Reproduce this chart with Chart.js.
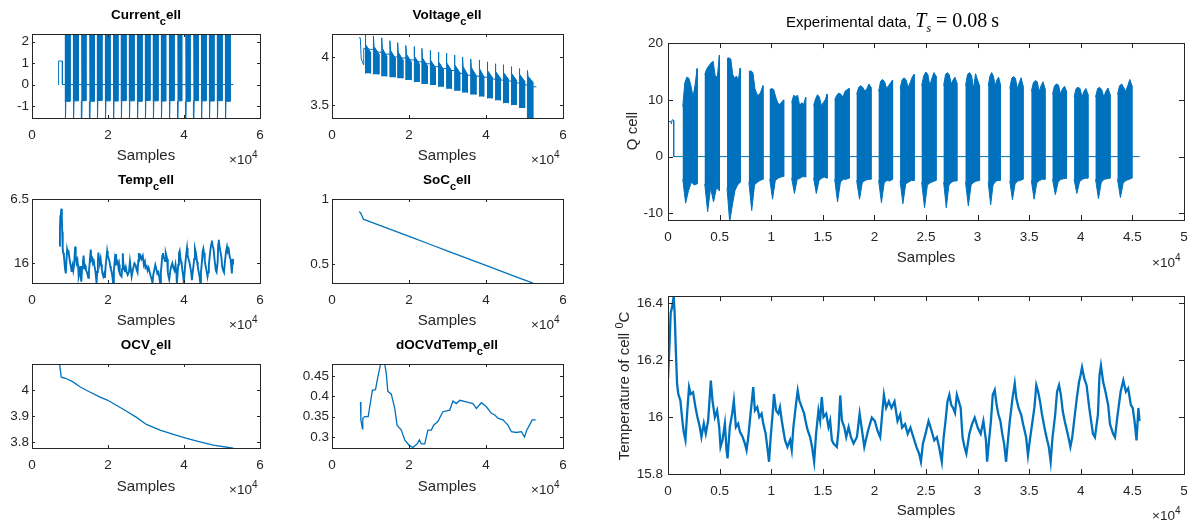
<!DOCTYPE html>
<html>
<head>
<meta charset="utf-8">
<script src="https://cdn.jsdelivr.net/npm/chart.js@4.4.1/dist/chart.umd.min.js"></script>
<style>
  body { margin: 0; width: 1192px; height: 522px; background: #fff; position: relative; overflow: hidden; font-family: 'Liberation Sans', Arial, sans-serif; }
  canvas { position: absolute; }
  .t { position: absolute; white-space: nowrap; color: #262626; line-height: 1; }
  .ttl { font-weight: bold; font-size: 13.5px; color: #000; transform: translateX(-50%); }
  .ttl span { position: relative; top: 6px; font-size: 11px; }
  .xl { font-size: 15px; transform: translateX(-50%); }
  .exp { font-size: 13.5px; }
  .exp span { position: relative; top: -6px; font-size: 10px; }
  .yl { font-size: 15px; transform: translate(-50%, -50%) rotate(-90deg); }
  .yl span { position: relative; top: -6px; font-size: 11px; }
  .big { font-size: 15px; color: #000; line-height: 22px; }
  .big .m { font-family: 'Liberation Serif', 'DejaVu Serif', serif; font-size: 20px; }
  .big .m i sub { font-size: 12px; }
  .big .m .eq { margin: 0 5px; }
  .big .m .u { margin-left: 4px; }
</style>
</head>
<body>
<script>
// sample index where the left-hand panels start relative to the right-hand ones
const leftOffset = 7200

// burst timing (samples, right-hand frame)
const burstStart = [1430, 3560, 5720, 7840, 9860, 11980, 14110, 16150, 18280, 20410, 22490, 24580, 26710, 28830, 31030, 33120, 35210, 37260, 39350, 41430, 43560]
const burstEnd = [2820, 4980, 7000, 9200, 11210, 13340, 15420, 17550, 19670, 21760, 23850, 25970, 27990, 30190, 32200, 34400, 36530, 38620, 40690, 42830, 44950]

// Q cell
const qInitX = [0, 250, 330, 400, 550, 550, 45700]
const qInitY = [6.2, 6.2, 5.8, 6.5, 6.4, 0, 0]
const qTop = [
  [8.8, 13.0, 14.0, 13.8, 12.5, 10.5, 12.6, 15.5],
  [14.5, 15.5, 16.0, 16.5, 16.8, 14.2, 14.0, 17.9],
  [17.3, 17.4, 17.2, 14.5, 13.8, 14.2, 13.5, 15.6],
  [15.0, 15.1, 14.8, 12.0, 11.0, 10.8, 11.5, 12.5],
  [11.8, 12.0, 11.8, 10.5, 9.5, 9.2, 9.6, 10.0],
  [9.5, 10.8, 10.6, 10.8, 9.0, 9.5, 9.2, 10.5],
  [9.0, 10.2, 10.9, 10.5, 9.0, 9.5, 10.0, 11.0],
  [10.0, 10.8, 11.2, 11.0, 10.5, 11.5, 11.8, 12.0],
  [11.0, 12.2, 12.5, 12.2, 11.5, 12.0, 12.8, 12.2],
  [11.5, 13.3, 13.6, 13.2, 12.0, 12.5, 13.0, 13.5],
  [12.0, 13.5, 13.9, 13.5, 12.2, 13.0, 14.0, 14.5],
  [12.5, 14.2, 14.9, 14.5, 12.5, 13.8, 14.8, 14.2],
  [12.5, 14.5, 14.8, 14.4, 12.8, 13.5, 14.0, 13.0],
  [12.5, 14.5, 14.8, 14.3, 12.0, 14.6, 13.5, 12.5],
  [12.5, 14.2, 14.8, 14.2, 12.5, 13.5, 14.0, 12.8],
  [12.0, 13.8, 14.1, 13.8, 12.0, 13.0, 13.9, 12.5],
  [11.5, 13.0, 13.4, 13.2, 11.5, 12.5, 13.2, 12.0],
  [11.0, 12.5, 12.8, 12.6, 11.0, 12.0, 12.4, 11.5],
  [10.5, 12.0, 12.2, 12.0, 10.5, 11.5, 12.0, 11.0],
  [10.5, 12.0, 12.2, 11.8, 10.5, 11.5, 12.1, 11.0],
  [11.0, 12.5, 12.8, 12.2, 11.5, 12.5, 13.6, 12.5]
]
const qBot = [
  [-4.0, -8.2, -6.0, -4.5, -5.0, -4.8],
  [-4.8, -9.7, -5.5, -8.0, -5.5, -6.0],
  [-5.5, -11.5, -8.6, -6.0, -5.0, -4.5],
  [-4.5, -9.5, -5.0, -4.5, -4.2, -4.0],
  [-4.0, -7.5, -4.2, -3.8, -3.6, -3.5],
  [-3.8, -6.5, -4.0, -3.8, -3.5, -3.6],
  [-3.8, -6.5, -4.2, -3.8, -3.6, -3.8],
  [-4.0, -8.0, -4.5, -4.0, -4.0, -3.8],
  [-4.2, -7.5, -4.5, -4.2, -4.0, -4.0],
  [-4.2, -8.1, -4.6, -4.2, -4.3, -4.0],
  [-4.3, -8.3, -4.8, -4.5, -4.2, -4.2],
  [-4.5, -9.0, -5.0, -4.6, -4.4, -4.2],
  [-4.5, -9.0, -5.0, -4.5, -4.3, -4.3],
  [-4.5, -8.7, -5.0, -4.5, -4.3, -4.2],
  [-4.5, -8.5, -5.0, -4.4, -4.2, -4.2],
  [-4.3, -7.6, -4.8, -4.3, -4.2, -4.0],
  [-4.2, -7.5, -4.6, -4.2, -4.0, -4.0],
  [-4.0, -6.7, -4.5, -4.0, -3.9, -3.8],
  [-4.0, -6.5, -4.4, -4.0, -3.8, -3.8],
  [-4.0, -7.4, -4.5, -4.0, -3.9, -3.8],
  [-4.0, -7.2, -4.6, -4.2, -4.0, -3.8]
]

// temperature of cell (right-hand frame)
const tempX = [0, 160, 260, 420, 550, 650, 750, 880, 1000, 1200,
  1390, 1520, 1690, 1850, 2040, 2200, 2430, 2660, 2850, 3080,
  3240, 3470, 3660, 3890, 4150, 4310, 4540, 4760, 4960, 5090,
  5280, 5510, 5670, 5770, 5990, 6220, 6380, 6580, 6800, 6970,
  7230, 7450, 7610, 7780, 8000, 8260, 8420, 8650, 8850, 9070,
  9230, 9460, 9660, 9790, 9950, 10140, 10270, 10470, 10690, 10850,
  11020, 11180, 11340, 11570, 11830, 11990, 12150, 12410, 12570, 12730,
  12960, 13190, 13380, 13540, 13770, 13960, 14160, 14350, 14580, 14740,
  14900, 15070, 15330, 15550, 15710, 15880, 16040, 16360, 16520, 16690,
  16850, 17080, 17270, 17500, 17720, 17980, 18310, 18570,
  19020, 19380, 19750, 20040, 20300, 20560, 20780, 20920, 21140, 21400,
  21650, 21950, 22240, 22500, 22680, 22970, 23230, 23490, 23780, 24070,
  24330, 24510, 24700, 24950, 25250, 25540, 25800, 26050, 26270, 26530,
  26710, 26890, 27080, 27260, 27440, 27630, 27810, 27990, 28180, 28360,
  28540, 28730, 28910, 29200, 29460, 29720, 30010, 30300, 30560, 30810,
  30920, 31110, 31290, 31470, 31660, 31840, 32020, 32210, 32390, 32570,
  32760, 32940, 33120, 33380, 33600, 33750, 33970, 34220, 34410, 34700,
  34880, 35060, 35320, 35500, 35690, 35870, 36050, 36240, 36420, 36600,
  36900, 37080, 37260, 37520, 37700, 37890, 38070, 38250, 38440, 38730,
  38990, 39170, 39350, 39610, 39830, 39970, 40120, 40340, 40560, 40820,
  41000, 41180, 41370, 41660, 41810, 41950, 42170, 42390, 42650, 42830,
  43130, 43310, 43570, 43860, 44120, 44370, 44590, 44850, 45030, 45210,
  45400, 45580, 45690]
const tempY = [16.134, 16.267, 16.366, 16.390, 16.424, 16.360, 16.244, 16.116, 16.081, 16.058,
  15.988, 15.948, 15.919, 16.012, 16.105, 16.081, 16.087, 16.035, 16.000, 15.965,
  15.930, 15.977, 15.942, 15.988, 16.128, 16.058, 16.000, 16.023, 15.965, 15.895,
  15.919, 15.977, 15.884, 15.855, 15.965, 16.012, 16.058, 15.965, 15.977, 15.948,
  15.930, 15.907, 15.884, 15.930, 16.012, 16.105, 16.023, 16.035, 16.000, 16.012,
  15.977, 15.942, 15.884, 15.843, 15.930, 16.012, 16.081, 16.023, 16.012, 16.035,
  15.988, 15.953, 15.919, 15.895, 15.919, 15.884, 15.965, 16.047, 16.093, 16.058,
  16.035, 16.012, 15.977, 15.953, 15.930, 15.895, 15.843, 15.942, 16.023, 15.988,
  16.070, 16.000, 16.012, 15.965, 15.988, 15.919, 15.907, 15.895, 15.953, 16.076,
  15.988, 15.965, 15.930, 15.965, 15.930, 15.907, 15.930, 16.012,
  15.895, 15.952, 15.998, 15.986, 15.952, 15.929, 16.021, 16.078, 16.032, 16.055,
  16.032, 16.055, 15.986, 16.009, 15.963, 15.975, 15.941, 15.963, 15.929, 15.895,
  15.872, 15.843, 15.906, 15.941, 15.986, 15.952, 15.918, 15.929, 15.895, 15.843,
  15.929, 15.986, 16.055, 16.078, 16.043, 16.032, 16.015, 16.078, 16.055, 16.032,
  15.929, 15.895, 15.872, 15.941, 15.975, 15.998, 15.963, 15.941, 15.986, 15.918,
  15.843, 15.918, 15.986, 16.078, 16.095, 16.043, 16.009, 15.986, 15.941, 15.906,
  15.843, 15.918, 15.986, 16.066, 16.118, 16.066, 16.032, 16.009, 15.975, 15.929,
  15.866, 15.918, 15.986, 16.032, 16.112, 16.089, 16.055, 16.009, 15.975, 15.941,
  15.895, 15.843, 15.929, 16.009, 16.089, 16.112, 16.078, 16.021, 15.986, 15.941,
  15.895, 15.929, 15.986, 16.066, 16.123, 16.146, 16.175, 16.135, 16.112, 16.032,
  15.986, 15.941, 15.929, 16.009, 16.146, 16.181, 16.123, 16.089, 16.043, 15.975,
  15.941, 15.929, 16.009, 16.089, 16.129, 16.089, 16.101, 16.043, 16.032, 15.986,
  15.918, 16.032, 15.986]

// current cell (left frame)
const curInitX = [6850, 7000, 7000, 8000, 8000, 53000]
const curInitY = [0, 0, 1.1, 1.1, 0, 0]
const curHigh = 2.6
const curLow = [-0.78, -0.76, -0.75, -0.78, -0.74, -0.76, -0.77, -0.75, -0.76, -0.78, -0.74, -0.76, -0.77, -0.75, -0.76, -0.78, -0.75, -0.76, -0.77, -0.75, -0.78]
const curSpike = [-1.7, -1.7, -1.7, -1.7, -1.7, -1.6, -1.7, -1.7, -1.7, -1.7, -1.7, -1.7, -1.7, -1.7, -1.7, -1.7, -1.6, -1.7, -1.7, -1.7, -1.7]

// voltage cell (left frame)
const voltInitX = [7000, 7350, 7600, 8200, 8250, 8650]
const voltInitY = [4.2, 4.2, 3.98, 3.92, 4.09, 4.09]
const voltEndX = 53100
const voltPeak = [4.30, 4.22, 4.20, 4.17, 4.15, 4.12, 4.11, 4.09, 4.07, 4.05, 4.04, 4.02, 4.00, 3.98, 3.97, 3.95, 3.93, 3.92, 3.90, 3.88, 3.86]
const voltShoulder = [4.13, 4.11, 4.09, 4.07, 4.05, 4.03, 4.01, 3.99, 3.97, 3.95, 3.94, 3.92, 3.90, 3.89, 3.88, 3.86, 3.85, 3.84, 3.83, 3.82, 3.80]
const voltBodyTop = [4.05, 4.03, 4.01, 3.99, 3.97, 3.95, 3.93, 3.91, 3.89, 3.87, 3.86, 3.84, 3.82, 3.81, 3.80, 3.79, 3.78, 3.77, 3.76, 3.75, 3.74]
const voltLow = [3.83, 3.82, 3.80, 3.79, 3.78, 3.76, 3.74, 3.72, 3.71, 3.69, 3.67, 3.65, 3.63, 3.61, 3.59, 3.57, 3.55, 3.52, 3.50, 3.47, 3.35]
const voltRest = [4.08, 4.05, 4.03, 4.00, 3.99, 3.97, 3.95, 3.93, 3.90, 3.88, 3.86, 3.83, 3.81, 3.80, 3.79, 3.77, 3.76, 3.75, 3.73, 3.71, 3.69]

// SoC cell
const socX = [7000, 7400, 8200, 8600, 15000, 20200, 25400, 30600, 35800, 41000, 46100, 52200]
const socY = [0.902, 0.895, 0.843, 0.840, 0.768, 0.710, 0.652, 0.594, 0.536, 0.478, 0.421, 0.353]

// OCV cell
const ocvX = [7000, 7700, 9000, 10800, 12600, 15200, 17800, 19800, 22200, 24900, 27500, 30100, 33700, 37200, 40700, 44200, 47700, 53000]
const ocvY = [4.13, 4.05, 4.045, 4.032, 4.013, 3.993, 3.974, 3.962, 3.942, 3.919, 3.895, 3.868, 3.846, 3.830, 3.814, 3.801, 3.788, 3.776]

// dOCVdTemp cell
const dX = [7400, 7500, 7900, 8000, 8500, 9400, 9800, 10500, 11300, 11900,
  12600, 13700, 14100, 14500, 15400, 16300, 16900, 18000, 18900, 20000,
  21000, 22100, 22700, 23200, 24100, 24900, 25800, 26400, 27500, 28800,
  30600, 31400, 32300, 33200, 34900, 36600, 37500, 38800, 40100, 41400,
  42300, 43100, 44400, 45700, 46600, 47900, 49200, 50000, 50600, 51300,
  52000, 52900]
const dY = [0.386, 0.342, 0.320, 0.346, 0.350, 0.350, 0.374, 0.415, 0.416, 0.447,
  0.478, 0.478, 0.456, 0.412, 0.405, 0.370, 0.329, 0.317, 0.293, 0.280,
  0.274, 0.283, 0.293, 0.283, 0.283, 0.317, 0.317, 0.329, 0.338, 0.362,
  0.366, 0.388, 0.382, 0.390, 0.386, 0.382, 0.370, 0.384, 0.374, 0.358,
  0.354, 0.346, 0.342, 0.329, 0.313, 0.311, 0.313, 0.300, 0.317, 0.329,
  0.342, 0.342]

// axis ticks
const xTicksLeft = [0, 20000, 40000, 60000]
const xLabelsLeft = ['0', '2', '4', '6']
const xTicksRight = [0, 5000, 10000, 15000, 20000, 25000, 30000, 35000, 40000, 45000, 50000]
const xLabelsRight = ['0', '0.5', '1', '1.5', '2', '2.5', '3', '3.5', '4', '4.5', '5']

const blue = '#0072BD'
const axisColor = '#262626'
const tickFont = { family: "'Liberation Sans', Arial, sans-serif", size: 13.5 }

const pts = (xs, ys, off = 0) => xs.map((x, i) => ({ x: x + off, y: ys[i] }))

const lineSet = (data, width = 1) => ({
  data, borderColor: blue, borderWidth: width, pointRadius: 0, tension: 0, fill: false
})
const shapeSet = (data) => ({
  data, borderColor: blue, backgroundColor: blue, borderWidth: 1, pointRadius: 0, tension: 0, fill: 'shape'
})

// matlab style box with inward ticks on all four sides
const matlabBox = {
  id: 'matlabBox',
  afterDatasetsDraw(chart, args, opts) {
    const { ctx, chartArea: a, scales: { x, y } } = chart
    const len = opts.tickLen || 3
    ctx.save()
    ctx.strokeStyle = axisColor
    ctx.lineWidth = 1
    ctx.beginPath()
    x.ticks.forEach(t => {
      const px = Math.round(x.getPixelForValue(t.value)) + 0.5
      ctx.moveTo(px, a.bottom); ctx.lineTo(px, a.bottom - len)
      ctx.moveTo(px, a.top); ctx.lineTo(px, a.top + len)
    })
    y.ticks.forEach(t => {
      const py = Math.round(y.getPixelForValue(t.value)) + 0.5
      ctx.moveTo(a.left, py); ctx.lineTo(a.left + len, py)
      ctx.moveTo(a.right, py); ctx.lineTo(a.right - len, py)
    })
    ctx.stroke()
    ctx.strokeRect(Math.round(a.left) + 0.5, Math.round(a.top) + 0.5, Math.round(a.right - a.left), Math.round(a.bottom - a.top))
    ctx.restore()
  }
}

function makePanel(cfg) {
  const canvas = document.createElement('canvas')
  const padT = 12
  const padR = 14
  canvas.width = cfg.yW + (cfg.box.r - cfg.box.l) + padR
  canvas.height = padT + (cfg.box.b - cfg.box.t) + cfg.xH
  canvas.style.left = (cfg.box.l - cfg.yW) + 'px'
  canvas.style.top = (cfg.box.t - padT) + 'px'
  document.body.appendChild(canvas)

  return new Chart(canvas, {
    type: 'line',
    data: { datasets: cfg.datasets },
    options: {
      responsive: false,
      animation: false,
      events: [],
      layout: { padding: { left: 0, top: padT, right: padR, bottom: 0 } },
      plugins: {
        legend: { display: false },
        tooltip: { enabled: false },
        matlabBox: { tickLen: cfg.tickLen }
      },
      scales: {
        x: {
          type: 'linear',
          min: cfg.xMin,
          max: cfg.xMax,
          grid: { display: false, drawTicks: false },
          border: { display: false },
          ticks: { padding: cfg.xPad, color: axisColor, font: tickFont, maxRotation: 0, autoSkip: false, callback: (v, i) => cfg.xLabels[i] },
          afterBuildTicks: s => { s.ticks = cfg.xTicks.map(v => ({ value: v })) },
          afterFit: s => { s.height = cfg.xH }
        },
        y: {
          type: 'linear',
          min: cfg.yMin,
          max: cfg.yMax,
          grid: { display: false, drawTicks: false },
          border: { display: false },
          ticks: { padding: cfg.yPad, color: axisColor, font: tickFont, autoSkip: false, callback: (v, i) => cfg.yLabels[i] },
          afterBuildTicks: s => { s.ticks = cfg.yTicks.map(v => ({ value: v })) },
          afterFit: s => { s.width = cfg.yW }
        }
      }
    },
    plugins: [matlabBox]
  })
}

// burst polygons
const qShapes = burstStart.map((s, i) => {
  const e = burstEnd[i]
  const top = qTop[i].map((v, k) => ({ x: s + (e - s) * k / (qTop[i].length - 1), y: v }))
  const bot = qBot[i].map((v, k) => ({ x: s + (e - s) * k / (qBot[i].length - 1), y: v })).reverse()
  return shapeSet(top.concat(bot))
})

const curShapes = burstStart.map((s0, i) => {
  const s = s0 + leftOffset
  const e = burstEnd[i] + leftOffset
  const w = e - s
  return shapeSet([
    { x: s, y: curHigh }, { x: e, y: curHigh }, { x: e, y: curLow[i] },
    { x: s + w * 0.2, y: curLow[i] }, { x: s + w * 0.15, y: curSpike[i] }, { x: s + w * 0.1, y: curLow[i] },
    { x: s, y: curLow[i] }
  ])
})

const voltShapes = burstStart.map((s0, i) => {
  const s = s0 + leftOffset
  const e = burstEnd[i] + leftOffset
  const w = e - s
  return shapeSet([
    { x: s, y: voltLow[i] }, { x: s, y: voltPeak[i] }, { x: s + w * 0.12, y: voltShoulder[i] },
    { x: e, y: voltBodyTop[i] }, { x: e, y: voltLow[i] }
  ])
})

const voltLine = pts(voltInitX, voltInitY)
burstStart.forEach((s, i) => {
  voltLine.push({ x: burstEnd[i] + leftOffset, y: voltRest[i] })
  if (i < burstStart.length - 1) voltLine.push({ x: burstStart[i + 1] + leftOffset, y: voltRest[i] })
})
voltLine.push({ x: voltEndX, y: voltRest[voltRest.length - 1] })

const leftCommon = { xMin: 0, xMax: 60000, xTicks: xTicksLeft, xLabels: xLabelsLeft, tickLen: 3, xH: 30, xPad: 9, yPad: 3 }
const rightCommon = { xMin: 0, xMax: 50000, xTicks: xTicksRight, xLabels: xLabelsRight, tickLen: 5, xH: 30, xPad: 9, yPad: 5, yW: 60 }

makePanel({
  ...leftCommon, yW: 32, box: { l: 32, t: 34, r: 260, b: 118 },
  yMin: -1.56, yMax: 2.36, yTicks: [-1, 0, 1, 2], yLabels: ['-1', '0', '1', '2'],
  datasets: [lineSet(pts(curInitX, curInitY))].concat(curShapes)
})

makePanel({
  ...leftCommon, yW: 60, box: { l: 332, t: 34, r: 563, b: 118 },
  yMin: 3.365, yMax: 4.24, yTicks: [3.5, 4], yLabels: ['3.5', '4'],
  datasets: [lineSet(voltLine)].concat(voltShapes)
})

makePanel({
  ...leftCommon, yW: 32, box: { l: 32, t: 199, r: 260, b: 283 },
  yMin: 15.844, yMax: 16.5, yTicks: [16, 16.5], yLabels: ['16', '6.5'],
  datasets: [lineSet(pts(tempX, tempY, leftOffset), 1.9)]
})

makePanel({
  ...leftCommon, yW: 60, box: { l: 332, t: 199, r: 563, b: 283 },
  yMin: 0.354, yMax: 1, yTicks: [0.5, 1], yLabels: ['0.5', '1'],
  datasets: [lineSet(pts(socX, socY), 1.3)]
})

makePanel({
  ...leftCommon, yW: 32, box: { l: 32, t: 364, r: 260, b: 448 },
  yMin: 3.777, yMax: 4.101, yTicks: [3.8, 3.9, 4], yLabels: ['3.8', '3.9', '4'],
  datasets: [lineSet(pts(ocvX, ocvY), 1.3)]
})

makePanel({
  ...leftCommon, yW: 60, box: { l: 332, t: 364, r: 563, b: 448 },
  yMin: 0.273, yMax: 0.479, yTicks: [0.3, 0.35, 0.4, 0.45], yLabels: ['0.3', '0.35', '0.4', '0.45'],
  datasets: [lineSet(pts(dX, dY), 1.3)]
})

makePanel({
  ...rightCommon, box: { l: 668, t: 42, r: 1184, b: 220 },
  yMin: -11.17, yMax: 20, yTicks: [-10, 0, 10, 20], yLabels: ['-10', '0', '10', '20'],
  datasets: [lineSet(pts(qInitX, qInitY))].concat(qShapes)
})

makePanel({
  ...rightCommon, box: { l: 668, t: 295, r: 1184, b: 474 },
  yMin: 15.8, yMax: 16.425, yTicks: [15.8, 16, 16.2, 16.4], yLabels: ['15.8', '16', '16.2', '16.4'],
  datasets: [lineSet(pts(tempX, tempY), 2.3)]
})

// text: titles, axis labels, exponents
const texts = [
  ['ttl', 146, 8, 'Current<span>c</span>ell'],
  ['ttl', 447, 8, 'Voltage<span>c</span>ell'],
  ['ttl', 146, 173, 'Temp<span>c</span>ell'],
  ['ttl', 447, 173, 'SoC<span>c</span>ell'],
  ['ttl', 146, 338, 'OCV<span>c</span>ell'],
  ['ttl', 447, 338, 'dOCVdTemp<span>c</span>ell'],
  ['xl', 146, 147, 'Samples'],
  ['xl', 447, 147, 'Samples'],
  ['xl', 146, 312, 'Samples'],
  ['xl', 447, 312, 'Samples'],
  ['xl', 146, 478, 'Samples'],
  ['xl', 447, 478, 'Samples'],
  ['xl', 926, 249, 'Samples'],
  ['xl', 926, 502, 'Samples'],
  ['exp', 229, 153, '×10<span>4</span>'],
  ['exp', 531, 153, '×10<span>4</span>'],
  ['exp', 229, 318, '×10<span>4</span>'],
  ['exp', 531, 318, '×10<span>4</span>'],
  ['exp', 229, 483, '×10<span>4</span>'],
  ['exp', 531, 483, '×10<span>4</span>'],
  ['exp', 1152, 256, '×10<span>4</span>'],
  ['exp', 1152, 509, '×10<span>4</span>'],
  ['yl', 631, 131, 'Q cell'],
  ['yl', 623, 386, 'Temperature of cell <span>0</span>C'],
  ['big', 786, 9, 'Experimental data, <span class="m"><i>T<sub>s</sub></i><span class="eq">=</span>0.08<span class="u">s</span></span>']
]
texts.forEach(([cls, x, y, html]) => {
  const d = document.createElement('div')
  d.className = 't ' + cls
  d.style.left = x + 'px'
  d.style.top = y + 'px'
  d.innerHTML = html
  document.body.appendChild(d)
})
</script>
</body>
</html>
